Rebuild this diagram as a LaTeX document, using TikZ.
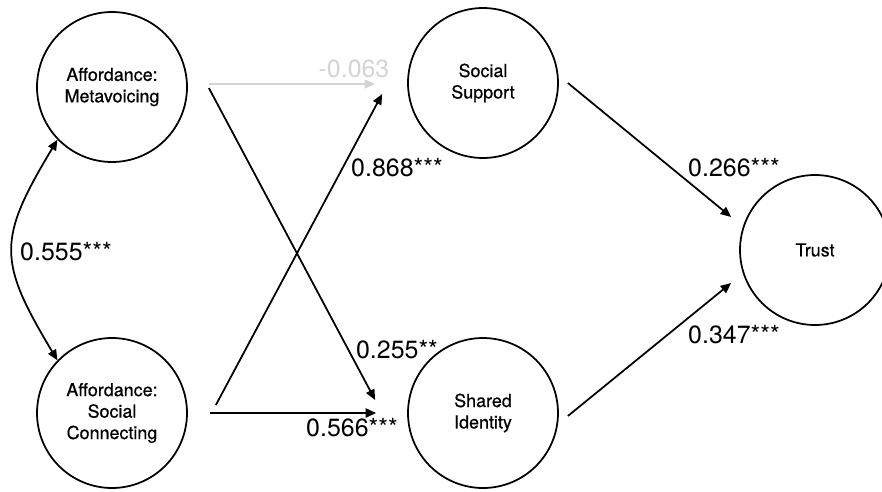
\documentclass[tikz,border=0pt]{standalone}
\usepackage{fontspec}
\setmainfont{TeX Gyre Heros}
\newfontfamily\latentfont{TeX Gyre Heros}[FakeBold=0.6]
\usepackage{tikz}
\usetikzlibrary{arrows.meta, positioning, calc}
\usepackage{xcolor}
\definecolor{pathgray}{HTML}{D4D4D4}

\begin{document}
\begin{tikzpicture}[
    x=0.02cm, y=-0.02cm,
    latent/.style={draw, circle, line width=1pt, minimum size=3cm,
                   inner sep=0pt, align=center,
                   font=\latentfont\fontsize{10.2}{12.2}\selectfont},
    arr/.style={-{Triangle[length=0.21cm, width=0.18cm]}, line width=1pt},
    coef/.style={font=\fontsize{14.2}{16}\selectfont, inner sep=0pt}
  ]
    \useasboundingbox (0,0) rectangle (882,491);
    \node[latent] (mv) at (112, 87) {Affordance:\\Metavoicing};
    \node[latent] (sc) at (112, 413) {Affordance:\\Social\\Connecting};
    \node[latent] (ss) at (483, 83) {Social\\Support};
    \node[latent] (si) at (483, 413) {Shared\\Identity};
    \node[latent] (tr) at (815, 250) {Trust};
    % paths
    \draw[arr, pathgray] ([shift={(21,-3)}]mv.east) -- ([shift={(-32,1)}]ss.west);
    \draw[arr] ([shift={(21,1)}]mv.east) -- ([shift={(-32,-13)}]si.west);
    \draw[arr] ([shift={(28,-8)}]sc.east) -- ([shift={(-25,11)}]ss.west);
    \draw[arr, line width=1.4pt] ([shift={(22,0)}]sc.east) -- ([shift={(-31,0)}]si.west);
    \draw[arr] ([shift={(9,0)}]ss.east) -- ([shift={(-8,-33)}]tr.west);
    \draw[arr] ([shift={(9,3)}]si.east) -- ([shift={(-8,33)}]tr.west);
    \draw[{Triangle[length=0.21cm, width=0.18cm]}-{Triangle[length=0.21cm, width=0.18cm]}, line width=1pt]
      (mv.224) .. controls +(-60,100) and +(-60,-100) .. (sc.136);
    % coefficients
    \node[coef, text=pathgray] (c1) at (354, 69) {-0.063};
    \node[coef] (c2) at (397, 350) {0.255**};
    \node[coef] (c3) at (397, 168) {0.868***};
    \node[coef] (c4) at (352, 428) {0.566***};
    \node[coef] (c5) at (734, 168) {0.266***};
    \node[coef] (c6) at (734, 335) {0.347***};
    \node[coef] (c7) at (66, 252) {0.555***};
  \end{tikzpicture}
\end{document}
